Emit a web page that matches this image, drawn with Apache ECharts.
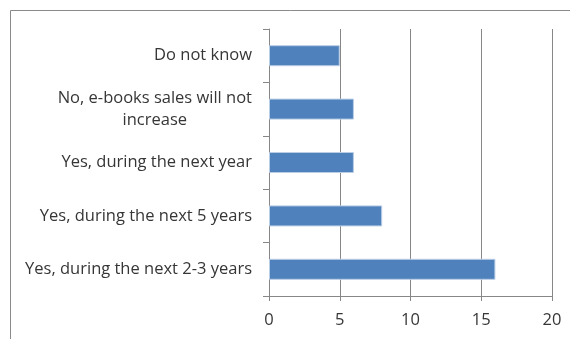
<!DOCTYPE html>
<html>
<head>
<meta charset="utf-8">
<script src="https://cdn.jsdelivr.net/npm/echarts@6/dist/echarts.min.js"></script>
<style>html,body{margin:0;padding:0;background:#fff}#c{width:570px;height:339px}</style>
</head>
<body>
<div id="c"></div>
<script>
var categories = [
  "Do not know",
  "No, e-books sales will not\nincrease",
  "Yes, during the next year",
  "Yes, during the next 5 years",
  "Yes, during the next 2-3 years"
];
var values = [5, 6, 6, 8, 16];
var xTicks = [0, 5, 10, 15, 20];

var FONT = "Open Sans";
var FS = 16.5;
var TXT = '#363636';
var chart = echarts.init(document.getElementById('c'));
chart.setOption({
  animation: false,
  backgroundColor: '#ffffff',
  graphic: [{
    type: 'rect',
    shape: { x: 10.5, y: 10.5, width: 700, height: 500 },
    style: { fill: 'none', stroke: '#8a8a8a', lineWidth: 1 },
    silent: true
  }],
  grid: { left: 269, right: 18, top: 29, bottom: 43, containLabel: false },
  xAxis: {
    type: 'value',
    min: xTicks[0],
    max: xTicks[xTicks.length - 1],
    interval: xTicks[1] - xTicks[0],
    axisLine: { show: true, lineStyle: { color: '#878787', width: 1 } },
    axisTick: { show: true, length: 5, lineStyle: { color: '#878787' } },
    splitLine: { show: true, lineStyle: { color: '#878787', width: 1 } },
    axisLabel: { color: TXT, fontFamily: FONT, fontSize: FS, margin: 16 }
  },
  yAxis: {
    type: 'category',
    inverse: true,
    data: categories,
    axisLine: { show: true, lineStyle: { color: '#878787', width: 1 } },
    axisTick: { show: true, length: 6, alignWithLabel: false, lineStyle: { color: '#878787' } },
    splitLine: { show: false },
    axisLabel: {
      color: TXT, fontFamily: FONT, fontSize: FS, margin: 17, lineHeight: 22,
      formatter: function (v) {
        var parts = v.split('\n');
        if (parts.length === 1) return v;
        return '{a|' + parts[0] + '}\n{b|' + parts[1] + '}';
      },
      rich: {
        a: { color: TXT, fontFamily: FONT, fontSize: FS, lineHeight: 22, align: 'right' },
        b: { color: TXT, fontFamily: FONT, fontSize: FS, lineHeight: 22, align: 'center' }
      }
    }
  },
  series: [{
    type: 'bar',
    data: values,
    barWidth: 21,
    itemStyle: { color: '#4f81bd', borderColor: '#b9cde5', borderWidth: 1 }
  }]
});
</script>
</body>
</html>
